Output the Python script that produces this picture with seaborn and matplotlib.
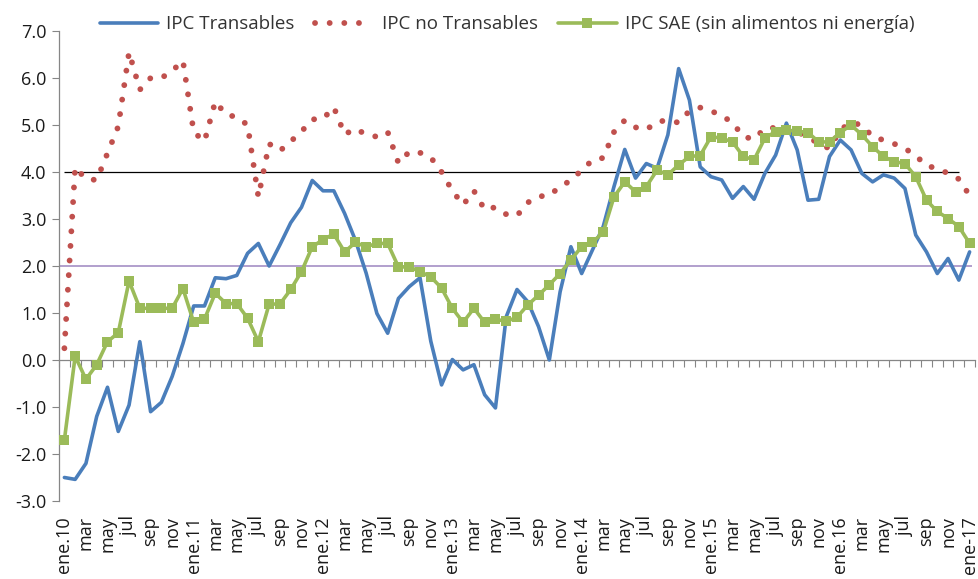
import matplotlib
matplotlib.use("Agg")
import matplotlib.pyplot as plt
import seaborn as sns
import pandas as pd
import numpy as np

# ---------------- data ----------------
month_names = ["ene", "feb", "mar", "abr", "may", "jun", "jul", "ago", "sep", "oct", "nov", "dic"]
years = ["10", "11", "12", "13", "14", "15", "16"]
categories = []
for yy in years:
    for m in month_names:
        categories.append(f"ene.{yy}" if m == "ene" else m)
categories.append("ene-17")

transables = [-2.50, -2.54, -2.20, -1.20, -0.58, -1.52, -0.96, 0.39, -1.10, -0.90,
              -0.35, 0.35, 1.15, 1.15, 1.75, 1.73, 1.80, 2.27, 2.48, 2.00,
              2.45, 2.92, 3.25, 3.82, 3.60, 3.60, 3.12, 2.55, 1.85, 0.99,
              0.57, 1.31, 1.56, 1.75, 0.40, -0.53, 0.01, -0.21, -0.10, -0.74,
              -1.02, 0.92, 1.50, 1.24, 0.71, 0.00, 1.45, 2.41, 1.84, 2.34,
              2.84, 3.69, 4.48, 3.87, 4.18, 4.08, 4.79, 6.20, 5.53, 4.11,
              3.90, 3.83, 3.44, 3.69, 3.42, 3.97, 4.36, 5.04, 4.47, 3.40,
              3.42, 4.33, 4.68, 4.47, 3.97, 3.79, 3.94, 3.87, 3.65, 2.66,
              2.30, 1.84, 2.16, 1.70, 2.30]

no_transables = [0.25, 4.10, 3.85, 3.83, 4.40, 4.97, 6.55, 5.75, 6.00, 6.00,
                 6.15, 6.37, 4.85, 4.65, 5.50, 5.22, 5.17, 5.00, 3.47, 4.60,
                 4.45, 4.65, 4.86, 5.12, 5.13, 5.38, 4.80, 4.92, 4.80, 4.75,
                 4.85, 4.19, 4.43, 4.41, 4.31, 4.00, 3.60, 3.30, 3.60, 3.20,
                 3.25, 3.10, 3.07, 3.35, 3.48, 3.50, 3.69, 3.82, 4.04, 4.25,
                 4.30, 4.85, 5.10, 4.95, 4.90, 5.07, 5.10, 5.05, 5.30, 5.37,
                 5.30, 5.20, 5.05, 4.75, 4.70, 4.93, 4.94, 4.93, 4.85, 4.75,
                 4.60, 4.50, 4.90, 5.05, 5.00, 4.75, 4.68, 4.60, 4.50, 4.35,
                 4.13, 4.08, 3.97, 3.85, 3.50]

sae = [-1.70, 0.08, -0.41, -0.10, 0.39, 0.58, 1.68, 1.10, 1.10, 1.10,
       1.10, 1.52, 0.80, 0.87, 1.42, 1.20, 1.20, 0.89, 0.39, 1.19,
       1.19, 1.50, 1.88, 2.41, 2.56, 2.68, 2.30, 2.50, 2.41, 2.48,
       2.48, 1.98, 1.98, 1.88, 1.77, 1.53, 1.10, 0.80, 1.10, 0.80,
       0.87, 0.82, 0.91, 1.17, 1.38, 1.60, 1.84, 2.13, 2.41, 2.50,
       2.72, 3.47, 3.79, 3.58, 3.69, 4.04, 3.94, 4.15, 4.33, 4.35,
       4.75, 4.72, 4.64, 4.33, 4.26, 4.72, 4.86, 4.89, 4.87, 4.84,
       4.64, 4.64, 4.84, 5.00, 4.79, 4.54, 4.33, 4.22, 4.18, 3.90,
       3.40, 3.16, 3.01, 2.84, 2.48]

ref_upper = 4.0
ref_lower = 2.0
yticks = [-3.0, -2.0, -1.0, 0.0, 1.0, 2.0, 3.0, 4.0, 5.0, 6.0, 7.0]

labels = ["IPC Transables", "IPC no Transables", "IPC SAE (sin alimentos ni energía)"]

# ---------------- figure ----------------
sns.set_style("white")
plt.rcParams["font.family"] = ["Open Sans", "DejaVu Sans"]

df = pd.DataFrame({"idx": np.arange(len(categories)),
                   "tr": transables, "nt": no_transables, "sae": sae})

fig = plt.figure(figsize=(9.79, 5.79), dpi=100)
ax = fig.add_axes([59 / 979, 1 - 501 / 579, (975 - 59) / 979, (501 - 31) / 579])

n = len(categories)
# reference lines
ax.hlines(ref_upper, 0, n - 2, color="black", lw=0.9, zorder=1)
ax.hlines(ref_lower, -0.5, n - 0.8, color="#9c85c0", lw=1.1, zorder=1)

sns.lineplot(data=df, x="idx", y="tr", ax=ax, color="#4a7ebb", lw=2.6,
             label=labels[0], zorder=3)
sns.lineplot(data=df, x="idx", y="nt", ax=ax, color="#c0504d", lw=4.2,
             linestyle=(0, (0.01, 2.5)), dash_capstyle="round",
             label=labels[1], zorder=2)
sns.lineplot(data=df, x="idx", y="sae", ax=ax, color="#9bbb59", lw=2.6,
             marker="s", markersize=6.5, markeredgewidth=0,
             label=labels[2], zorder=4)

ax.set_xlim(-0.5, n - 0.5)
ax.set_ylim(-3.0, 7.0)
ax.set_yticks(yticks)
ax.set_yticklabels([f"{v:.1f}" for v in yticks], fontsize=13, color="#1a1a1a")
ax.tick_params(axis="y", direction="out", length=5, width=0.8, color="#868686", pad=4, left=True)

# x axis line at zero with boundary ticks
for s in ["top", "right"]:
    ax.spines[s].set_visible(False)
ax.spines["left"].set_color("#868686")
ax.spines["left"].set_linewidth(0.9)
ax.spines["bottom"].set_position(("data", 0))
ax.spines["bottom"].set_color("#868686")
ax.spines["bottom"].set_linewidth(0.9)
ax.set_xticks(np.arange(-0.5, n, 1.0))
ax.set_xticklabels([])
ax.tick_params(axis="x", direction="out", length=5, width=0.8, color="#868686", bottom=True)
ax.set_xlabel("")
ax.set_ylabel("")

# category labels at the bottom
sec = ax.secondary_xaxis(0.0)
tick_pos = list(range(0, n, 2))
sec.set_xticks(tick_pos)
sec.set_xticklabels([categories[i] for i in tick_pos], rotation=90, fontsize=13,
                    color="#1a1a1a", va="top")
sec.tick_params(axis="x", length=0, pad=11)
sec.spines["bottom"].set_visible(False)

leg = ax.legend(loc="center", bbox_to_anchor=(0.518, 0.958), bbox_transform=fig.transFigure,
                ncol=3, frameon=False, fontsize=13.5, handlelength=3.1,
                handletextpad=0.45, columnspacing=1.1, borderaxespad=0)
for t in leg.get_texts():
    t.set_color("#333333")

fig.savefig("out.png", dpi=100)
